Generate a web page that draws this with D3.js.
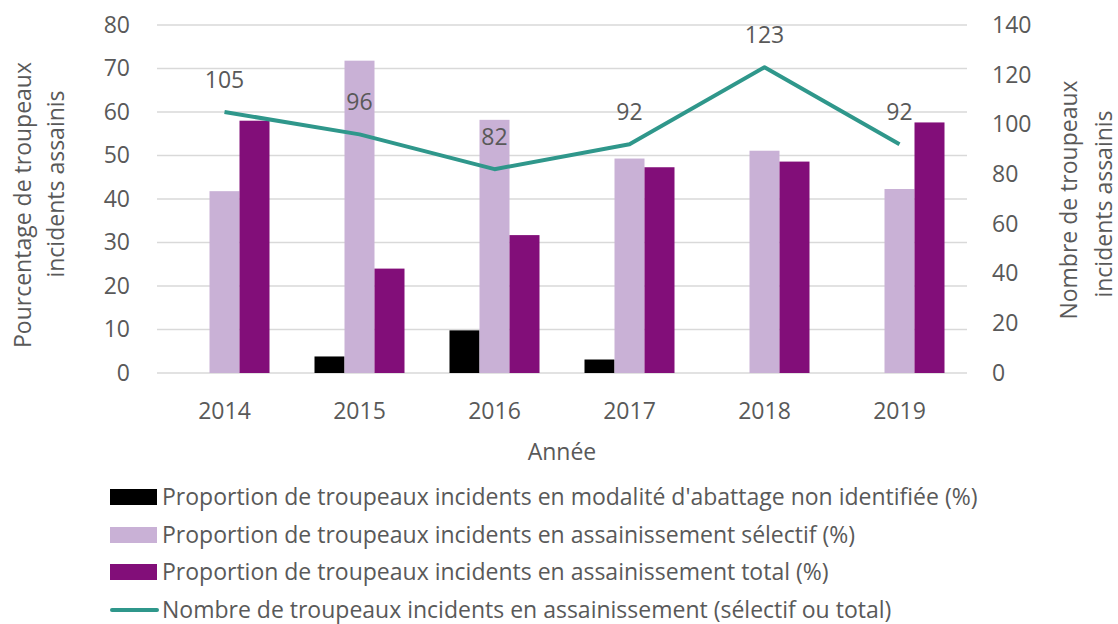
<!DOCTYPE html>
<html><head><meta charset="utf-8">
<script src="https://cdn.jsdelivr.net/npm/d3@7"></script>
<style>body{margin:0;background:#fff}svg{display:block}text{font-family:"Open Sans",Lato,sans-serif;fill:#595959}</style>
</head><body><svg id="c" width="1118" height="624"></svg>
<script>
const years = ["2014","2015","2016","2017","2018","2019"];
const nonIdentifiee = [0, 3.8, 9.8, 3.1, 0, 0];
const selectif = [41.8, 71.8, 58.2, 49.3, 51.1, 42.3];
const total = [58, 24, 31.7, 47.3, 48.6, 57.6];
const nombre = [105, 96, 82, 92, 123, 92];
const leftTicks = [0,10,20,30,40,50,60,70,80];
const rightTicks = [0,20,40,60,80,100,120,140];
const seriesNames = [
  "Proportion de troupeaux incidents en modalité d'abattage non identifiée (%)",
  "Proportion de troupeaux incidents en assainissement sélectif (%)",
  "Proportion de troupeaux incidents en assainissement total (%)",
  "Nombre de troupeaux incidents en assainissement (sélectif ou total)"
];
const colors = ["#000000","#c9b1d6","#820e79","#2f978b"];

const svg = d3.select("#c");
const L=157, R=967, T=25, B=373;
const x0 = d3.scaleBand().domain(years).range([L,R]).paddingInner(1/3).paddingOuter(1/6);
const x1 = d3.scaleBand().domain([0,1,2]).range([0,x0.bandwidth()]);
const yL = d3.scaleLinear().domain([0,80]).range([B,T]);
const yR = d3.scaleLinear().domain([0,140]).range([B,T]);
const fs = 23;

// gridlines
svg.append("g").selectAll("line").data(leftTicks).join("line")
  .attr("x1",L).attr("x2",R).attr("y1",d=>yL(d)).attr("y2",d=>yL(d))
  .attr("stroke","#d9d9d9").attr("stroke-width",1.5);

// axes
const gl = svg.append("g").attr("transform",`translate(130,0)`)
  .call(d3.axisLeft(yL).tickValues(leftTicks).tickSize(0).tickPadding(0));
gl.select(".domain").remove();
gl.selectAll("text").style("font-size",fs+"px").attr("fill","#595959");
const gr = svg.append("g").attr("transform",`translate(992,0)`)
  .call(d3.axisRight(yR).tickValues(rightTicks).tickSize(0).tickPadding(0));
gr.select(".domain").remove();
gr.selectAll("text").style("font-size",fs+"px").attr("fill","#595959");
const gx = svg.append("g").attr("transform",`translate(0,${B})`)
  .call(d3.axisBottom(x0).tickSize(0).tickPadding(0));
gx.select(".domain").remove();
gx.selectAll("text").attr("dy",null).attr("y",46).style("font-size",fs+"px").attr("fill","#595959");

// bars
const sets = [nonIdentifiee, selectif, total];
sets.forEach((arr,si)=>{
  svg.append("g").selectAll("rect").data(arr).join("rect")
    .attr("x",(d,i)=>x0(years[i])+x1(si))
    .attr("width",x1.bandwidth())
    .attr("y",d=>yL(d)).attr("height",d=>B-yL(d))
    .attr("fill",colors[si]);
});

// line
const cx = y=>x0(y)+x0.bandwidth()/2;
svg.append("path").datum(nombre)
  .attr("d",d3.line().x((d,i)=>cx(years[i])).y(d=>yR(d)))
  .attr("fill","none").attr("stroke",colors[3]).attr("stroke-width",4).attr("stroke-linejoin","round");
svg.append("g").selectAll("text").data(nombre).join("text")
  .attr("x",(d,i)=>cx(years[i])).attr("y",d=>yR(d)-24)
  .attr("text-anchor","middle").style("font-size",fs+"px").attr("fill","#404040").text(d=>d);

// axis titles
svg.append("text").attr("x",562).attr("y",460).attr("text-anchor","middle").style("font-size",fs+"px").text("Année");
const lt = svg.append("text").attr("transform","rotate(-90)").style("font-size",fs+"px").attr("text-anchor","middle");
lt.append("tspan").attr("x",-205).attr("y",31).text("Pourcentage de troupeaux");
lt.append("tspan").attr("x",-184).attr("y",64).text("incidents assainis");
const rt = svg.append("text").attr("transform","rotate(-90)").style("font-size",fs+"px").attr("text-anchor","middle");
rt.append("tspan").attr("x",-200).attr("y",1077).text("Nombre de troupeaux");
rt.append("tspan").attr("x",-204).attr("y",1112).text("incidents assainis");

// legend
const ly = [497, 535, 572, 610];
const lg = svg.append("g");
seriesNames.forEach((n,i)=>{
  if(i<3){
    lg.append("rect").attr("x",110).attr("y",ly[i]-8).attr("width",47).attr("height",16).attr("fill",colors[i]);
  } else {
    lg.append("line").attr("x1",112).attr("x2",157).attr("y1",ly[i]).attr("y2",ly[i]).attr("stroke",colors[3]).attr("stroke-width",4).attr("stroke-linecap","round");
  }
  lg.append("text").attr("x",162).attr("y",ly[i]+8).style("font-size",fs+"px").text(n);
});
</script></body></html>
